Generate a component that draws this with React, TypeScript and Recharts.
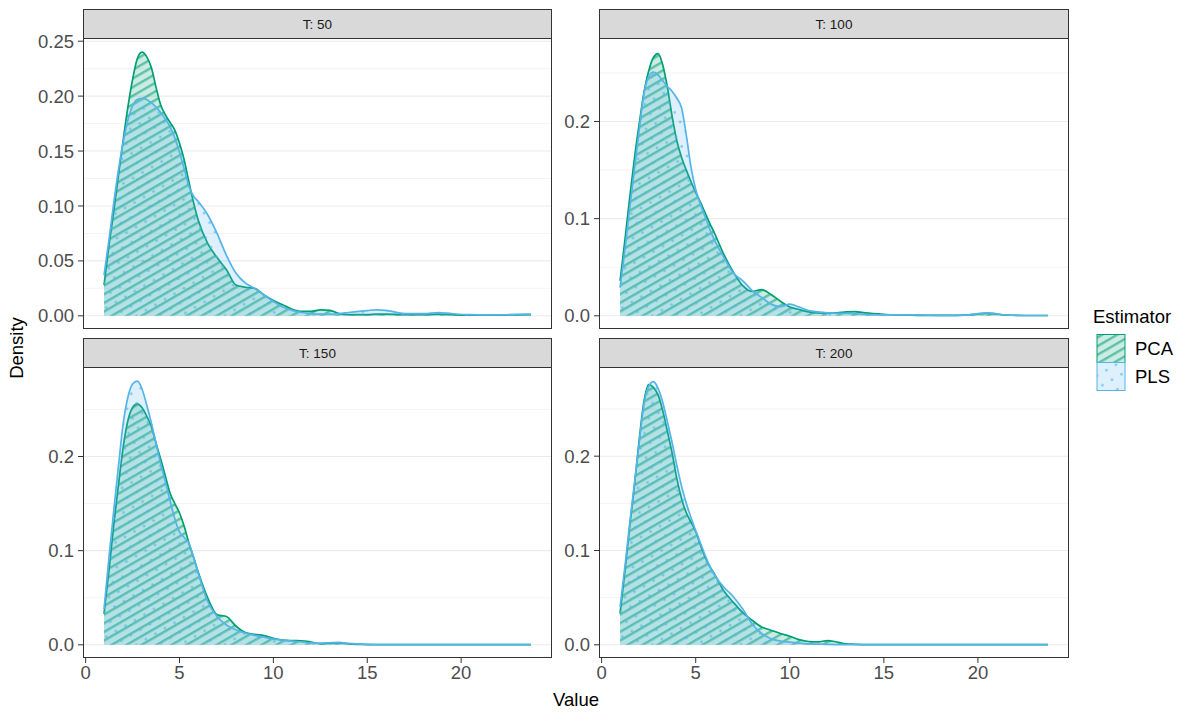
import React from 'react';
import { AreaChart, Area, XAxis, YAxis, CartesianGrid } from 'recharts';

const X_VALUES = [0.98, 1.25, 1.5, 1.75, 2, 2.25, 2.5, 2.75, 3, 3.25, 3.5, 3.75, 4, 4.25, 4.5, 4.75, 5, 5.25, 5.5, 5.75, 6, 6.5, 7, 7.5, 8, 8.5, 9, 9.5, 10, 10.5, 11, 11.5, 12, 12.5, 13, 13.5, 14, 15, 15.5, 16, 17, 18, 18.8, 19.5, 20.5, 21.5, 22.5, 23.72];

const PCA_T50 = [0.028, 0.065, 0.095, 0.128, 0.16, 0.19, 0.215, 0.234, 0.24, 0.236, 0.226, 0.208, 0.192, 0.183, 0.176, 0.169, 0.157, 0.142, 0.122, 0.103, 0.087, 0.066, 0.053, 0.042, 0.028, 0.026, 0.025, 0.019, 0.014, 0.01, 0.006, 0.004, 0.004, 0.0055, 0.005, 0.002, 0.001, 0.001, 0.0015, 0.0015, 0.001, 0.001, 0.0015, 0.001, 0.0005, 0.0005, 0.0008, 0.001];
const PLS_T50 = [0.037, 0.07, 0.103, 0.133, 0.158, 0.178, 0.191, 0.197, 0.198, 0.197, 0.194, 0.19, 0.185, 0.179, 0.172, 0.162, 0.149, 0.134, 0.118, 0.109, 0.104, 0.092, 0.075, 0.055, 0.039, 0.03, 0.025, 0.019, 0.013, 0.008, 0.005, 0.003, 0.002, 0.0015, 0.0015, 0.002, 0.003, 0.0048, 0.0055, 0.005, 0.002, 0.002, 0.003, 0.002, 0.001, 0.0008, 0.001, 0.0015];

const PCA_T100 = [0.036, 0.08, 0.123, 0.163, 0.198, 0.23, 0.252, 0.266, 0.27, 0.258, 0.235, 0.205, 0.18, 0.163, 0.15, 0.138, 0.127, 0.117, 0.106, 0.095, 0.085, 0.063, 0.045, 0.031, 0.025, 0.027, 0.022, 0.015, 0.009, 0.0065, 0.004, 0.003, 0.0028, 0.003, 0.004, 0.0042, 0.003, 0.0015, 0.001, 0.001, 0.0005, 0.0005, 0.0005, 0.001, 0.0025, 0.0008, 0.0003, 0.0003];
const PLS_T100 = [0.029, 0.07, 0.112, 0.152, 0.192, 0.229, 0.246, 0.251, 0.248, 0.242, 0.236, 0.231, 0.224, 0.214, 0.186, 0.153, 0.13, 0.115, 0.102, 0.089, 0.078, 0.06, 0.044, 0.036, 0.026, 0.019, 0.012, 0.0095, 0.012, 0.009, 0.0055, 0.004, 0.003, 0.0025, 0.0025, 0.002, 0.0015, 0.001, 0.001, 0.001, 0.0008, 0.0005, 0.0005, 0.001, 0.003, 0.0008, 0.0003, 0.0003];

const PCA_T150 = [0.033, 0.08, 0.128, 0.17, 0.21, 0.238, 0.252, 0.256, 0.252, 0.243, 0.232, 0.214, 0.197, 0.179, 0.161, 0.15, 0.14, 0.126, 0.108, 0.093, 0.077, 0.05, 0.032, 0.03, 0.02, 0.013, 0.011, 0.0098, 0.007, 0.005, 0.0045, 0.0043, 0.003, 0.0012, 0.0015, 0.002, 0.001, 0.0003, 0.0001, 0.0001, 0.0001, 0.0001, 0.0001, 0.0001, 0.0001, 0.0001, 0.0001, 0.0001];
const PLS_T150 = [0.038, 0.094, 0.143, 0.19, 0.235, 0.263, 0.277, 0.28, 0.272, 0.255, 0.236, 0.214, 0.192, 0.173, 0.153, 0.134, 0.12, 0.114, 0.108, 0.093, 0.076, 0.046, 0.03, 0.021, 0.016, 0.0125, 0.01, 0.008, 0.006, 0.005, 0.004, 0.003, 0.002, 0.0018, 0.0022, 0.0025, 0.0015, 0.0005, 0.0003, 0.0002, 0.0002, 0.0002, 0.0002, 0.0002, 0.0002, 0.0002, 0.0002, 0.0002];

const PCA_T200 = [0.033, 0.08, 0.127, 0.17, 0.218, 0.258, 0.276, 0.273, 0.265, 0.248, 0.226, 0.203, 0.176, 0.155, 0.14, 0.13, 0.12, 0.106, 0.093, 0.083, 0.075, 0.057, 0.045, 0.034, 0.026, 0.019, 0.0155, 0.012, 0.009, 0.0055, 0.0035, 0.003, 0.0045, 0.003, 0.001, 0.0005, 0.0001, 0.0001, 0.0001, 0.0001, 0.0001, 0.0001, 0.0001, 0.0001, 0.0001, 0.0001, 0.0001, 0.0001];
const PLS_T200 = [0.04, 0.085, 0.13, 0.172, 0.215, 0.255, 0.274, 0.279, 0.272, 0.257, 0.236, 0.214, 0.19, 0.168, 0.15, 0.135, 0.121, 0.108, 0.095, 0.083, 0.074, 0.061, 0.051, 0.038, 0.022, 0.012, 0.0065, 0.004, 0.0028, 0.0018, 0.001, 0.0007, 0.0005, 0.0002, 0.0002, 0.0002, 0.0002, 0.0002, 0.0002, 0.0002, 0.0002, 0.0002, 0.0002, 0.0002, 0.0002, 0.0002, 0.0002, 0.0002];

const PANEL_LABELS = ['T: 50', 'T: 100', 'T: 150', 'T: 200'];
const SERIES_NAMES = ['PCA', 'PLS'];
const X_TICKS = [0, 5, 10, 15, 20];
const X_DOMAIN = [-0.14, 24.84];
const Y_TICKS_T50 = [0, 0.05, 0.1, 0.15, 0.2, 0.25];
const Y_MINOR_T50 = [0.025, 0.075, 0.125, 0.175, 0.225];
const Y_TICKS_OTHER = [0, 0.1, 0.2];
const Y_MINOR_OTHER = [0.05, 0.15, 0.25];

const FONT = '"Liberation Sans", Arial, Helvetica, sans-serif';
const GREEN = '#009E73';
const BLUE = '#56B4E9';

const PLOT_H = 290;
const STRIP_H = 30;
const Y_AXIS_W = 70;
const TOP_PAD = 14;

function PatternDefs({ id }: { id: string }) {
  return (
    <defs>
      <pattern id={`pca-${id}`} patternUnits="userSpaceOnUse" width="7.5" height="7.5" patternTransform="rotate(-30)">
        <rect width="7.5" height="7.5" fill="rgba(0,158,115,0.2)" />
        <rect x="0" y="0" width="7.5" height="2.4" fill="rgba(0,158,115,0.55)" />
      </pattern>
      <pattern id={`pls-${id}`} patternUnits="userSpaceOnUse" width="11" height="11" patternTransform="rotate(-30)">
        <rect width="11" height="11" fill="rgba(86,180,233,0.2)" />
        <circle cx="5.5" cy="5.5" r="1.2" fill="rgba(86,180,233,0.8)" />
      </pattern>
    </defs>
  );
}

type PanelProps = {
  id: string;
  label: string;
  pca: number[];
  pls: number[];
  left: number;
  top: number;
  width: number;
  yDomain: number[];
  yTicks: number[];
  yMinor: number[];
  decimals: number;
  showX: boolean;
};

function Panel(p: PanelProps) {
  const data = X_VALUES.map((x, i) => ({ x, pca: p.pca[i], pls: p.pls[i] }));
  const tickStyle = { fontSize: 18.5, fill: '#4D4D4D', fontFamily: FONT };
  return (
    <>
      <div style={{ position: 'absolute', left: p.left - Y_AXIS_W, top: p.top + STRIP_H - TOP_PAD }}>
        <AreaChart
          width={p.width + Y_AXIS_W}
          height={PLOT_H + TOP_PAD + (p.showX ? 40 : 0)}
          data={data}
          margin={{ top: TOP_PAD, right: 0, bottom: 0, left: 0 }}
        >
          <PatternDefs id={p.id} />
          <CartesianGrid vertical={false} horizontalValues={p.yMinor} stroke="#EBEBEB" strokeWidth={0.6} />
          <CartesianGrid vertical={false} horizontalValues={p.yTicks} stroke="#EBEBEB" strokeWidth={1.1} />
          <XAxis
            dataKey="x"
            type="number"
            domain={X_DOMAIN}
            allowDataOverflow
            ticks={X_TICKS}
            interval={0}
            hide={!p.showX}
            height={40}
            axisLine={false}
            tickLine={{ stroke: '#333333' }}
            tickSize={5}
            tickMargin={3}
            tick={tickStyle}
          />
          <YAxis
            type="number"
            domain={p.yDomain}
            allowDataOverflow
            ticks={p.yTicks}
            interval={0}
            width={Y_AXIS_W}
            axisLine={false}
            tickLine={{ stroke: '#333333' }}
            tickSize={5}
            tickMargin={4}
            tick={tickStyle}
            tickFormatter={(v: number) => v.toFixed(p.decimals)}
          />
          <Area
            dataKey="pca"
            name={SERIES_NAMES[0]}
            type="monotone"
            stroke={GREEN}
            strokeWidth={1.7}
            fill={`url(#pca-${p.id})`}
            fillOpacity={1}
            baseValue={0}
            dot={false}
            activeDot={false}
            isAnimationActive={false}
          />
          <Area
            dataKey="pls"
            name={SERIES_NAMES[1]}
            type="monotone"
            stroke={BLUE}
            strokeWidth={1.7}
            fill={`url(#pls-${p.id})`}
            fillOpacity={1}
            baseValue={0}
            dot={false}
            activeDot={false}
            isAnimationActive={false}
          />
        </AreaChart>
      </div>
      <div
        style={{
          position: 'absolute',
          left: p.left,
          top: p.top,
          width: p.width,
          height: STRIP_H,
          boxSizing: 'border-box',
          background: '#D9D9D9',
          border: '1px solid #333333',
          display: 'flex',
          alignItems: 'center',
          justifyContent: 'center',
          fontSize: 13.5,
          fontFamily: FONT,
          color: '#1A1A1A',
        }}
      >
        {p.label}
      </div>
      <div
        style={{
          position: 'absolute',
          left: p.left,
          top: p.top + STRIP_H - 1,
          width: p.width,
          height: PLOT_H + 1,
          boxSizing: 'border-box',
          border: '1px solid #333333',
          pointerEvents: 'none',
        }}
      />
    </>
  );
}

function LegendBox() {
  return (
    <svg width={110} height={110} style={{ position: 'absolute', left: 1085, top: 300 }}>
      <PatternDefs id="legend" />
      <text x={8} y={23} fontSize={18.5} fontFamily={FONT} fill="#000">Estimator</text>
      <rect x={12} y={34.5} width={28} height={28} fill="#fff" />
      <rect x={12} y={34.5} width={28} height={28} fill="url(#pca-legend)" stroke={GREEN} strokeWidth={1} />
      <rect x={12} y={62.5} width={28} height={28} fill="#fff" />
      <rect x={12} y={62.5} width={28} height={28} fill="url(#pls-legend)" stroke={BLUE} strokeWidth={1} />
      <text x={50} y={55} fontSize={18.5} fontFamily={FONT} fill="#000">{SERIES_NAMES[0]}</text>
      <text x={50} y={83} fontSize={18.5} fontFamily={FONT} fill="#000">{SERIES_NAMES[1]}</text>
    </svg>
  );
}

export default function App() {
  return (
    <div style={{ position: 'absolute', left: 0, top: 0, width: 1200, height: 720, background: '#fff', fontFamily: FONT, overflow: 'hidden' }}>
      <Panel id="t50" label={PANEL_LABELS[0]} pca={PCA_T50} pls={PLS_T50} left={83} top={9} width={469}
        yDomain={[-0.012, 0.252]} yTicks={Y_TICKS_T50} yMinor={Y_MINOR_T50} decimals={2} showX={false} />
      <Panel id="t100" label={PANEL_LABELS[1]} pca={PCA_T100} pls={PLS_T100} left={599} top={9} width={470}
        yDomain={[-0.0136, 0.285]} yTicks={Y_TICKS_OTHER} yMinor={Y_MINOR_OTHER} decimals={1} showX={false} />
      <Panel id="t150" label={PANEL_LABELS[2]} pca={PCA_T150} pls={PLS_T150} left={83} top={338} width={469}
        yDomain={[-0.014, 0.294]} yTicks={Y_TICKS_OTHER} yMinor={Y_MINOR_OTHER} decimals={1} showX={true} />
      <Panel id="t200" label={PANEL_LABELS[3]} pca={PCA_T200} pls={PLS_T200} left={599} top={338} width={470}
        yDomain={[-0.014, 0.2935]} yTicks={Y_TICKS_OTHER} yMinor={Y_MINOR_OTHER} decimals={1} showX={true} />
      <div style={{ position: 'absolute', left: 17, top: 348, transform: 'translate(-50%, -50%) rotate(-90deg)', fontSize: 18.5, color: '#000', whiteSpace: 'nowrap' }}>
        Density
      </div>
      <div style={{ position: 'absolute', left: 576, top: 700, transform: 'translate(-50%, -50%)', fontSize: 18.5, color: '#000', whiteSpace: 'nowrap' }}>
        Value
      </div>
      <LegendBox />
    </div>
  );
}
